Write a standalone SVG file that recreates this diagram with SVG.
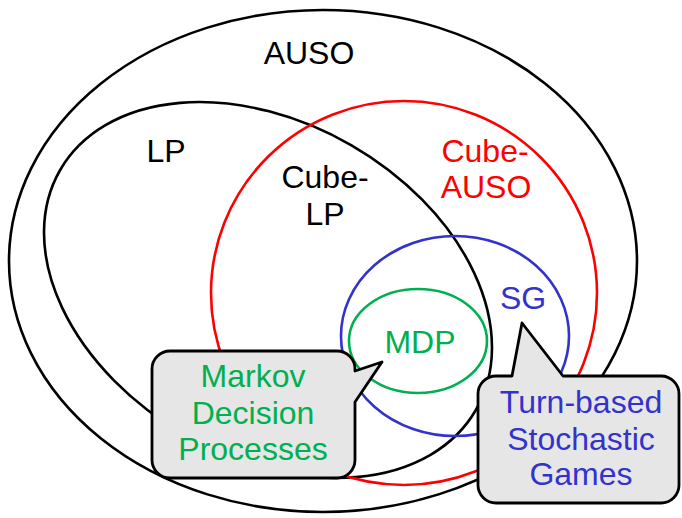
<svg xmlns="http://www.w3.org/2000/svg" width="682" height="518" viewBox="0 0 682 518">
  <style>
    .set { fill: none; stroke-width: 2.6; }
    .lbl { font-family: "Liberation Sans", Arial, sans-serif; font-size: 32px; text-anchor: middle; }
    .callout { fill: #e6e6e6; stroke: #000; stroke-width: 2.8; stroke-linejoin: round; }
  </style>
  <rect width="682" height="518" fill="#fff"/>

  <!-- set boundaries -->
  <g id="auso">
    <ellipse class="set" cx="323" cy="261" rx="314" ry="251" stroke="#000"/>
    <text class="lbl" x="309" y="64" fill="#000">AUSO</text>
  </g>
  <g id="lp">
    <ellipse class="set" cx="268" cy="290" rx="240" ry="167" transform="rotate(30 268 290)" stroke="#000"/>
    <text class="lbl" x="166" y="162" fill="#000">LP</text>
  </g>
  <g id="cube-lp">
    <text class="lbl" x="325" y="188" fill="#000">Cube-</text>
    <text class="lbl" x="325" y="225" fill="#000">LP</text>
  </g>
  <g id="cube-auso">
    <ellipse class="set" cx="404" cy="293" rx="193" ry="192" stroke="#ff0000"/>
    <text class="lbl" x="485" y="162" fill="#ff0000">Cube-</text>
    <text class="lbl" x="486" y="198" fill="#ff0000">AUSO</text>
  </g>
  <g id="sg">
    <ellipse class="set" cx="455" cy="336" rx="114" ry="100" stroke="#3333cc"/>
    <text class="lbl" x="523" y="309" fill="#3333cc">SG</text>
  </g>
  <g id="mdp">
    <ellipse class="set" cx="418" cy="341" rx="69" ry="52" stroke="#00b050"/>
    <text class="lbl" x="420" y="353" fill="#00b050">MDP</text>
  </g>

  <!-- callout pointers belong to the callout shapes -->
  <g id="connectors"></g>

  <g id="callout-mdp">
    <path class="callout" d="M170,351 H337 A18,18 0 0 1 355,369 V371 L382,362 L355,402 V460 A18,18 0 0 1 337,478 H170 A18,18 0 0 1 152,460 V369 A18,18 0 0 1 170,351 Z"/>
    <text class="lbl" x="253" y="387" fill="#00b050">Markov</text>
    <text class="lbl" x="253" y="424" fill="#00b050">Decision</text>
    <text class="lbl" x="253" y="460" fill="#00b050">Processes</text>
  </g>
  <g id="callout-sg">
    <path class="callout" d="M496,376 H512 L522,323 L563,376 H661 A18,18 0 0 1 679,394 V485 A18,18 0 0 1 661,503 H496 A18,18 0 0 1 478,485 V394 A18,18 0 0 1 496,376 Z"/>
    <text class="lbl" x="581" y="413" fill="#3333cc">Turn-based</text>
    <text class="lbl" x="581" y="450" fill="#3333cc">Stochastic</text>
    <text class="lbl" x="581" y="485" fill="#3333cc">Games</text>
  </g>
</svg>
